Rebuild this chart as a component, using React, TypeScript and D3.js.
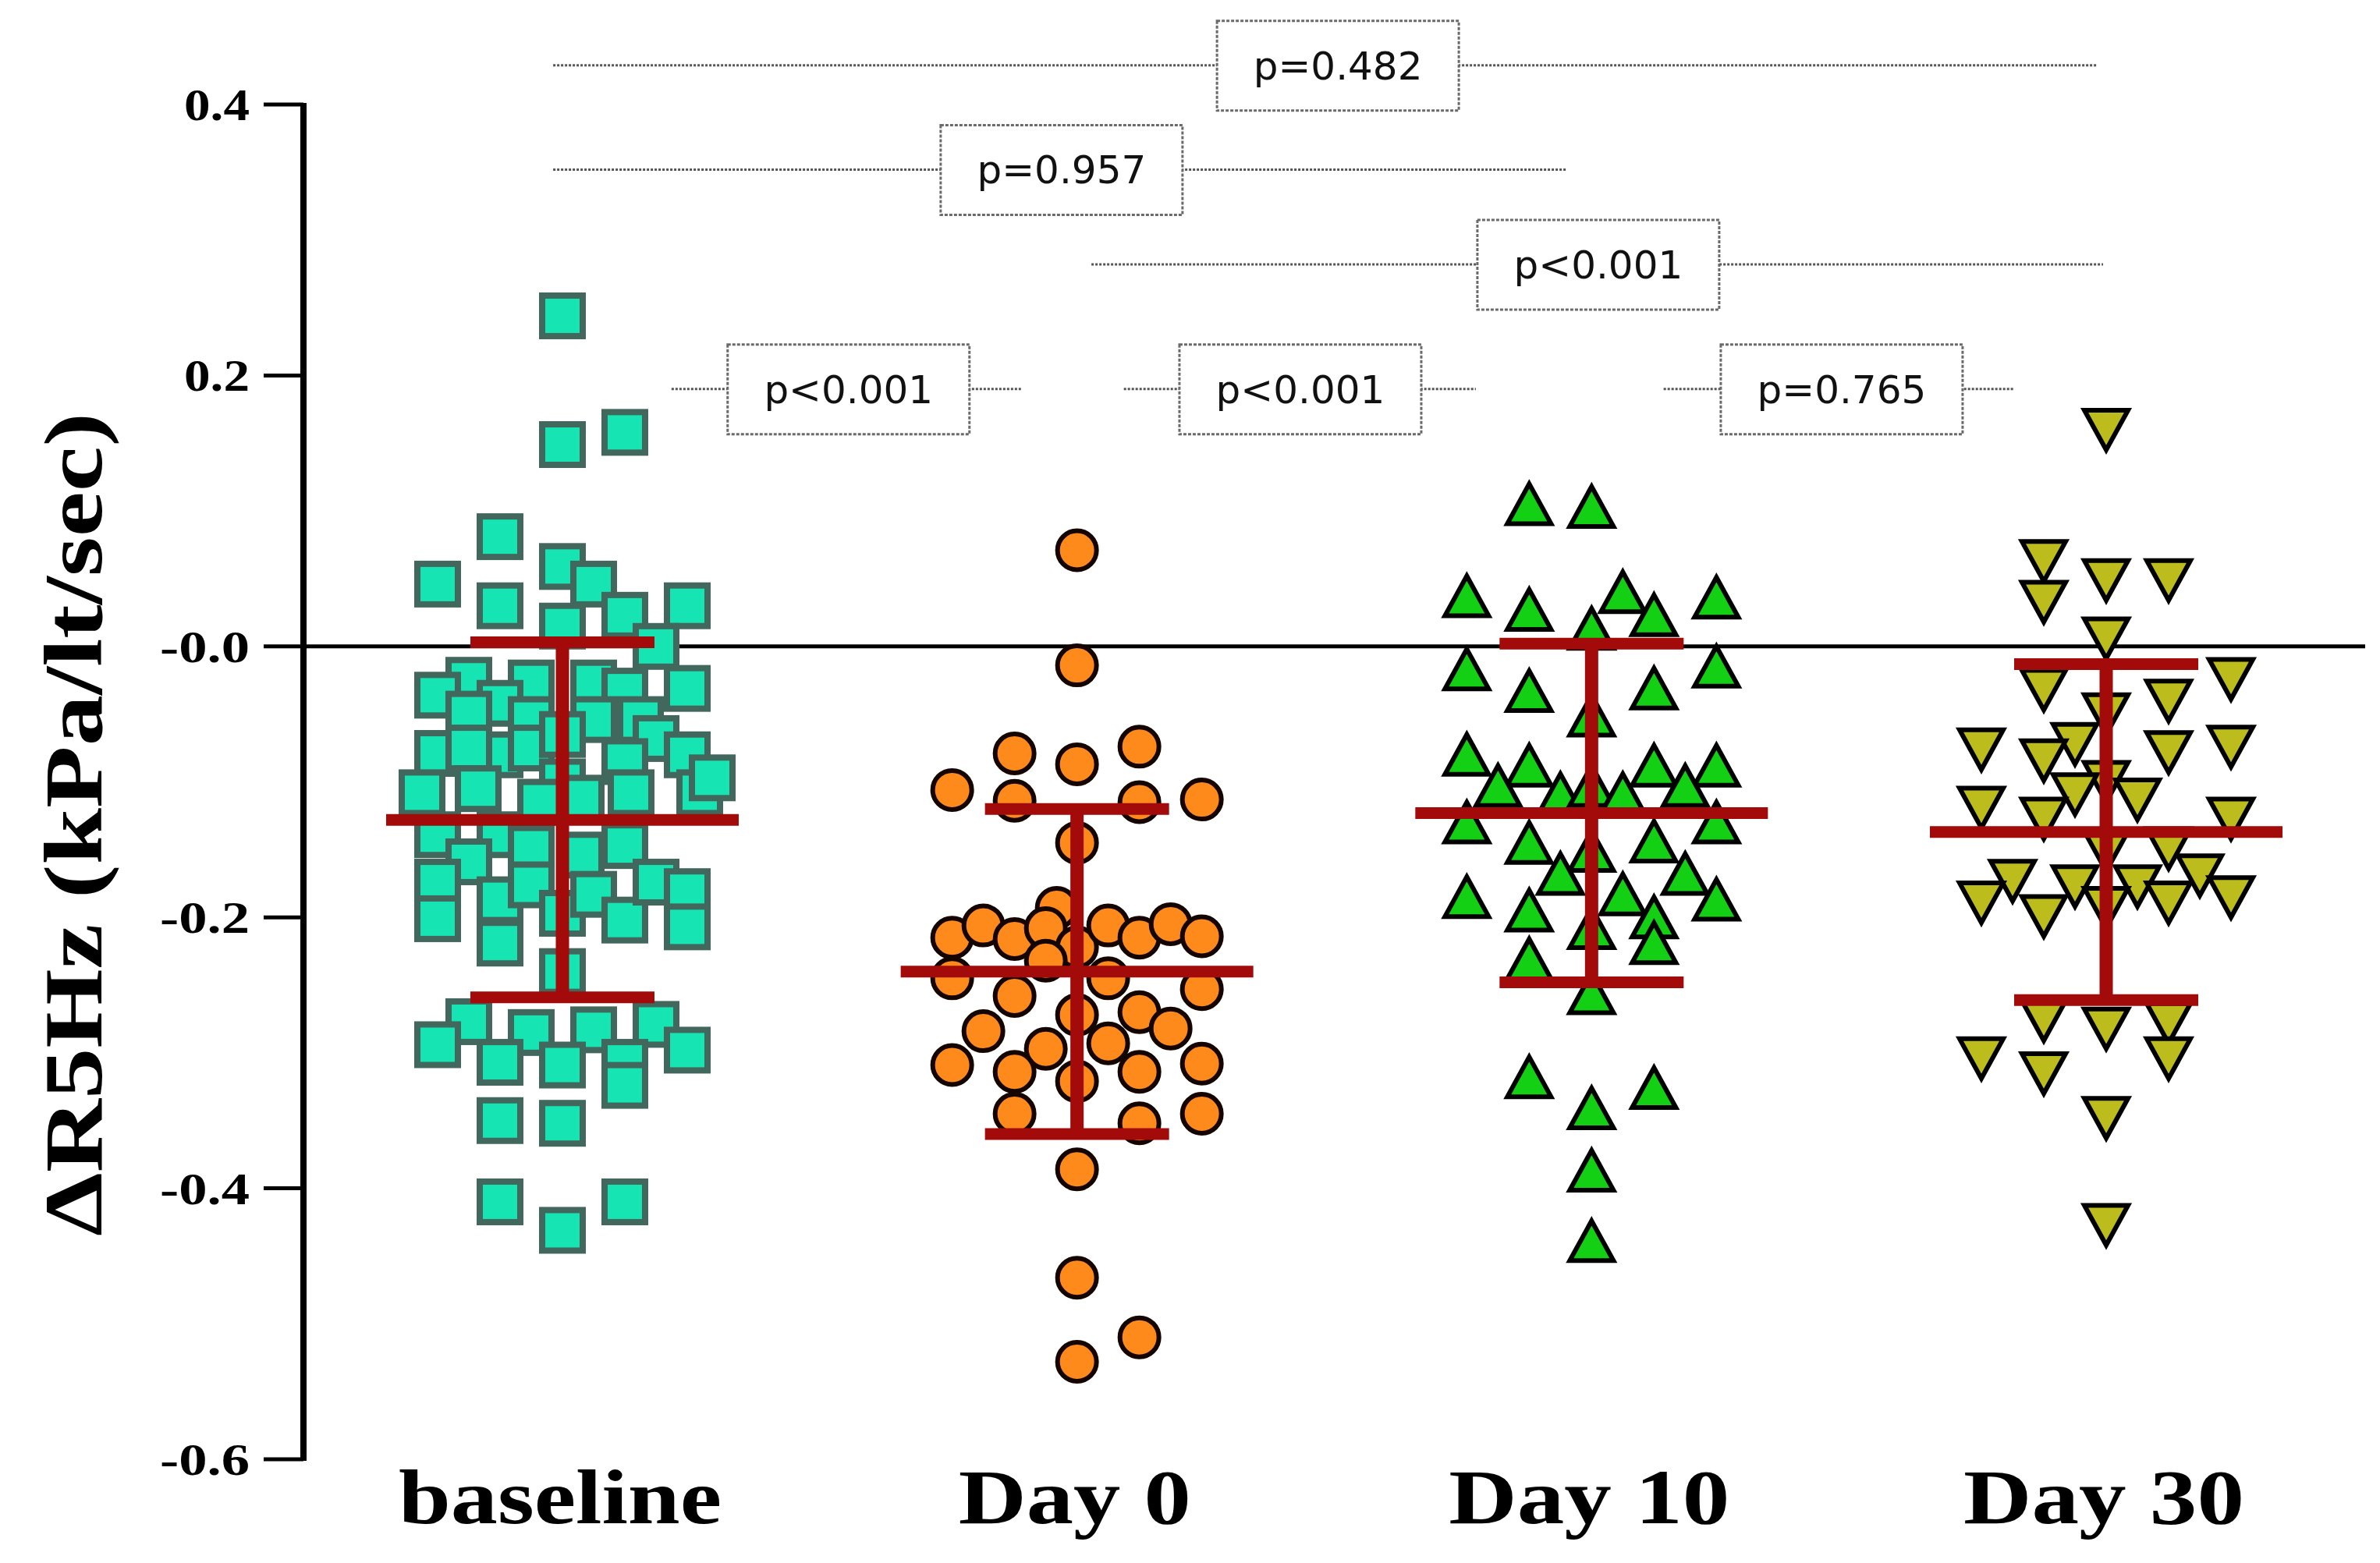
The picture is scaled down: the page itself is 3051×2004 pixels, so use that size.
import React from "react";
import * as d3 from "d3";

// Groups on the x axis
const categories = ["baseline", "Day 0", "Day 10", "Day 30"];

// Y axis ticks and their printed labels
const yTicks = [0.4, 0.2, 0.0, -0.2, -0.4, -0.6];
const yTickLabels = ["0.4", "0.2", "-0.0", "-0.2", "-0.4", "-0.6"];

// Individual subjects: [jitter column, ΔR5Hz value]
const baselinePoints: [number, number][] = [
  [0, 0.244], [0, 0.149], [2, 0.158], [-2, 0.081], [-4, 0.046], [0, 0.059],
  [1, 0.046], [-2, 0.03], [2, 0.023], [4, 0.03], [0, 0.015], [3, 0.0],
  [-3, -0.025], [-4, -0.036], [-1, -0.027], [1, -0.027], [-2, -0.042], [2, -0.033],
  [4, -0.031], [-3, -0.05], [-1, -0.054], [1, -0.054], [2.5, -0.054], [3, -0.068],
  [-4, -0.079], [-2, -0.08], [-1, -0.075], [-3, -0.075], [2, -0.085], [4, -0.08],
  [0, -0.065], [0, -0.1], [-4.5, -0.108], [-2.7, -0.105], [-0.7, -0.115], [0.6, -0.112],
  [2.2, -0.108], [4.4, -0.108], [4.8, -0.097], [-4, -0.139], [-2, -0.139], [-3, -0.159],
  [-1, -0.149], [0.6, -0.154], [2, -0.147], [-4, -0.174], [-4, -0.201], [-2, -0.187],
  [-2, -0.219], [-1, -0.176], [0, -0.197], [1, -0.183], [2, -0.202], [3, -0.174],
  [4, -0.181], [4, -0.207], [0, -0.24], [-3, -0.277], [-4, -0.294], [-1, -0.285],
  [1, -0.283], [3, -0.279], [4, -0.298], [-2, -0.307], [0, -0.309], [2, -0.307],
  [2, -0.324], [-2, -0.35], [0, -0.352], [-2, -0.41], [2, -0.41], [0, -0.431],
];

const day0Points: [number, number][] = [
  [0, 0.071], [0, -0.014], [-2, -0.079], [0, -0.087], [2, -0.074], [-4, -0.106],
  [-2, -0.114], [2, -0.115], [4, -0.113], [0, -0.145], [-0.65, -0.193], [-4, -0.215],
  [-3, -0.206], [-2, -0.216], [-1, -0.208], [0, -0.222], [1, -0.206], [2, -0.215],
  [3, -0.205], [4, -0.214], [-1, -0.232], [-4, -0.245], [-2, -0.258], [1, -0.245],
  [4, -0.253], [0, -0.272], [-3, -0.284], [2, -0.27], [3, -0.282], [1, -0.293],
  [-1, -0.297], [-4, -0.309], [-2, -0.314], [0, -0.321], [2, -0.314], [4, -0.308],
  [-2, -0.345], [2, -0.352], [4, -0.345], [0, -0.386], [0, -0.466], [2, -0.51],
  [0, -0.528],
];

const day10Points: [number, number][] = [
  [-2, 0.105], [0, 0.103], [-4, 0.037], [-2, 0.027], [1, 0.04], [2, 0.023],
  [4, 0.036], [0, 0.013], [-4, -0.017], [4, -0.015], [-2, -0.033], [2, -0.031],
  [0, -0.051], [-4, -0.08], [-2, -0.088], [2, -0.088], [4, -0.088], [-3, -0.103],
  [-1, -0.109], [0, -0.103], [1, -0.109], [3, -0.103], [-4, -0.13], [4, -0.13],
  [-2, -0.145], [2, -0.144], [0, -0.151], [-1, -0.168], [3, -0.168], [-4, -0.185],
  [4, -0.187], [-2, -0.195], [1, -0.183], [0, -0.208], [2, -0.2], [2, -0.219],
  [-2, -0.231], [0, -0.256], [-2, -0.318], [2, -0.326], [0, -0.341], [0, -0.387],
  [0, -0.439],
];

const day30Points: [number, number][] = [
  [0, 0.16], [-2, 0.063], [-2, 0.033], [0, 0.049], [2, 0.049], [0, 0.006],
  [-2, -0.032], [2, -0.04], [4, -0.024], [0, -0.05], [-4, -0.076], [-1, -0.072],
  [-2, -0.084], [2, -0.078], [4, -0.074], [0, -0.1], [-1, -0.109], [1, -0.113],
  [-4, -0.119], [-2, -0.127], [4, -0.127], [0, -0.151], [2, -0.149], [-3, -0.173],
  [-1, -0.177], [1, -0.177], [3, -0.169], [-4, -0.189], [-2, -0.199], [0, -0.193],
  [2, -0.189], [4, -0.185], [-2, -0.276], [0, -0.282], [2, -0.278], [2, -0.304],
  [-4, -0.304], [-2, -0.315], [0, -0.348], [0, -0.427],
];

// Group summary: mean ± SD
const groupMeans = [-0.128, -0.24, -0.123, -0.137];
const groupSDs = [0.131, 0.12, 0.125, 0.124];

// Pairwise comparisons: level (y value), span and label position in group-index units
const compLabels = ["p=0.482", "p=0.957", "p<0.001", "p<0.001", "p<0.001", "p=0.765"];
const compLevels = [0.429, 0.352, 0.282, 0.19, 0.19, 0.19];
const compSpans: [number, number][] = [
  [-0.018, 2.983], [-0.018, 1.951], [1.028, 2.994],
  [0.212, 0.891], [1.091, 1.775], [2.14, 2.821],
];
const compLabelAt = [1.507, 0.97, 2.013, 0.556, 1.434, 2.486];

const W = 3051;
const H = 2004;
const SLOT = 40;
const SERIF = "'Liberation Serif', 'Times New Roman', Times, serif";
const SANS = "'DejaVu Sans', Verdana, sans-serif";
const RED = "#a30a0a";

const y = d3.scaleLinear().domain([-0.6, 0.4]).range([1871, 134]);
const xIdx = d3.scaleLinear().domain([0, categories.length - 1]).range([721, 2700]);
const axisX = 389;

const groups = [baselinePoints, day0Points, day10Points, day30Points];

// rendered widths of the wide bold serif labels
const catLabelWidth = (s: string) => (s.length >= 8 ? 414 : s.length === 5 ? 298 : 360);
const tickLabelWidth = (s: string) => (s.startsWith("-") ? 115 : 84);

function Marker({ kind, cx, cy }: { kind: number; cx: number; cy: number }) {
  if (kind === 0) {
    return (
      <rect x={cx - 26} y={cy - 26} width={52} height={52}
        fill="#16e4b2" stroke="#42675d" strokeWidth={8} />
    );
  }
  if (kind === 1) {
    return <circle cx={cx} cy={cy} r={25} fill="#ff8a1c" stroke="#140500" strokeWidth={6} />;
  }
  if (kind === 2) {
    const p = `${cx},${cy - 26} ${cx + 28},${cy + 25} ${cx - 28},${cy + 25}`;
    return <polygon points={p} fill="#14d014" stroke="#000" strokeWidth={6} strokeLinejoin="miter" />;
  }
  const p = `${cx - 28},${cy - 25} ${cx + 28},${cy - 25} ${cx},${cy + 26}`;
  return <polygon points={p} fill="#bcbc1c" stroke="#000" strokeWidth={6} strokeLinejoin="miter" />;
}

export default function App() {
  const zeroY = y(0);
  return (
    <svg width={W} height={H} viewBox={`0 0 ${W} ${H}`}
      style={{ position: "absolute", left: 0, top: 0, background: "#fff" }}>
      <rect x={0} y={0} width={W} height={H} fill="#fff" />

      {/* comparison brackets */}
      {compLabels.map((lab, i) => {
        const yy = y(compLevels[i]);
        const [a, b] = compSpans[i];
        const cx = xIdx(compLabelAt[i]);
        return (
          <g key={"c" + i}>
            <line x1={xIdx(a)} x2={xIdx(b)} y1={yy} y2={yy}
              stroke="#555" strokeWidth={3} strokeDasharray="3 2" />
            <rect x={cx - 155} y={yy - 57} width={310} height={115}
              fill="#fff" stroke="#6a6a6a" strokeWidth={3} strokeDasharray="4 2" />
            <text x={cx} y={yy + 18} textAnchor="middle" fontFamily={SANS}
              fontSize={50} fill="#111">{lab}</text>
          </g>
        );
      })}

      {/* zero reference line */}
      <line x1={axisX} x2={3032} y1={zeroY} y2={zeroY} stroke="#000" strokeWidth={5} />

      {/* y axis */}
      <line x1={axisX} x2={axisX} y1={y(0.4) - 2} y2={y(-0.6) + 2} stroke="#000" strokeWidth={8} />
      {yTicks.map((t, i) => {
        const w = tickLabelWidth(yTickLabels[i]);
        return (
          <g key={"t" + i}>
            <line x1={338} x2={axisX} y1={y(t)} y2={y(t)} stroke="#000" strokeWidth={5} />
            <text x={320 - w} y={y(t) + 20} fontFamily={SERIF} fontWeight="bold"
              fontSize={58} textLength={w} lengthAdjust="spacingAndGlyphs" fill="#000">
              {yTickLabels[i]}
            </text>
          </g>
        );
      })}
      <text transform={`translate(130, ${1057 + 528}) rotate(-90)`}
        fontFamily={SERIF} fontWeight="bold" fontSize={106} textLength={1056}
        lengthAdjust="spacingAndGlyphs" fill="#000">
        ΔR5Hz (kPa/lt/sec)
      </text>

      {/* individual points */}
      {groups.map((pts, gi) => (
        <g key={"g" + gi}>
          {pts.map(([slot, v], k) => (
            <Marker key={k} kind={gi} cx={xIdx(gi) + slot * SLOT} cy={y(v)} />
          ))}
        </g>
      ))}

      {/* mean ± SD */}
      {groupMeans.map((m, gi) => {
        const cx = xIdx(gi);
        const up = y(m + groupSDs[gi]);
        const lo = y(m - groupSDs[gi]);
        const my = y(m);
        return (
          <g key={"e" + gi} stroke={RED}>
            <line x1={cx} x2={cx} y1={up} y2={lo} strokeWidth={17} />
            <line x1={cx - 118} x2={cx + 118} y1={up} y2={up} strokeWidth={15} />
            <line x1={cx - 118} x2={cx + 118} y1={lo} y2={lo} strokeWidth={15} />
            <line x1={cx - 226} x2={cx + 226} y1={my} y2={my} strokeWidth={15} />
          </g>
        );
      })}

      {/* category labels */}
      {categories.map((c, i) => {
        const w = catLabelWidth(c);
        return (
          <text key={c} x={xIdx(i) - 3 - w / 2} y={1953} fontFamily={SERIF}
            fontWeight="bold" fontSize={100} textLength={w} lengthAdjust="spacingAndGlyphs"
            fill="#000">{c}</text>
        );
      })}
    </svg>
  );
}
